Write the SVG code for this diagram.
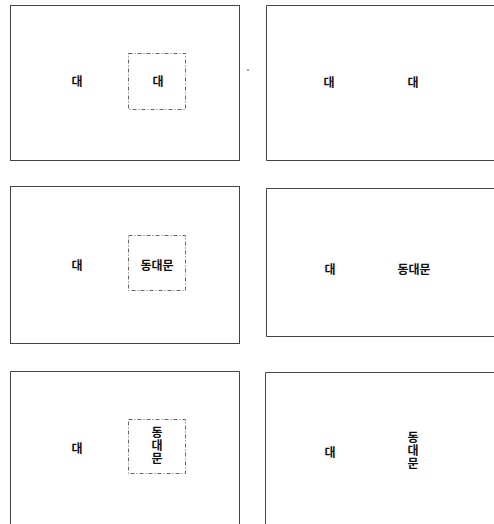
<svg xmlns="http://www.w3.org/2000/svg" width="494" height="524" viewBox="0 0 494 524">
<style>
.frame{fill:none;stroke:#444;stroke-width:1}
.sel{fill:none;stroke:#666;stroke-width:1;stroke-dasharray:4 2 1 2}
text{font-family:"Noto Sans CJK KR","Noto Sans CJK SC",sans-serif;font-size:12px;font-weight:bold;fill:#111;text-anchor:middle;dominant-baseline:central}
.v{writing-mode:vertical-rl;text-orientation:upright;letter-spacing:1px}
</style>
<rect width="494" height="524" fill="#fff"/>
<g id="panel1">
<rect class="frame" x="10.5" y="5.5" width="229" height="155"/>
<rect class="sel" x="128.5" y="53.5" width="57" height="56"/>
<text x="77" y="80">대</text>
<text x="158" y="80">대</text>
</g>
<circle cx="248" cy="70" r="0.8" fill="#333"/>
<g id="panel2">
<path class="frame" d="M494 5.5H266.5V160.5H494"/>
<text x="329" y="81">대</text>
<text x="413" y="81">대</text>
</g>
<g id="panel3">
<rect class="frame" x="10.5" y="186.5" width="229" height="157"/>
<rect class="sel" x="128.5" y="235.5" width="57" height="55"/>
<text x="77" y="264">대</text>
<text x="157" y="264">동대문</text>
</g>
<g id="panel4">
<path class="frame" d="M494 188.5H266.5V336.5H494"/>
<text x="330" y="268">대</text>
<text x="414" y="268">동대문</text>
</g>
<g id="panel5">
<path class="frame" d="M10.5 524V371.5H239.5V524"/>
<rect class="sel" x="128.5" y="419.5" width="57" height="54"/>
<text x="77" y="447">대</text>
<text class="v" x="157" y="446">동대문</text>
</g>
<g id="panel6">
<path class="frame" d="M494 372.5H265.5V524"/>
<text x="330" y="451">대</text>
<text class="v" x="413" y="451">동대문</text>
</g>
</svg>
